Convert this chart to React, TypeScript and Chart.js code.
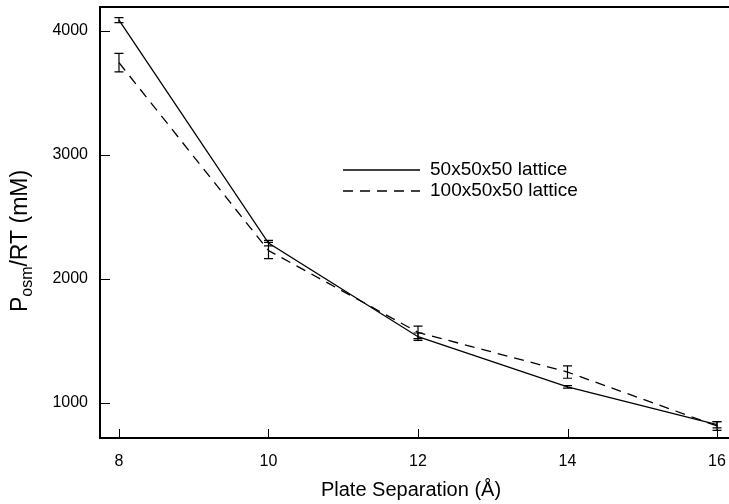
import React, { useEffect, useRef } from "react";
import { Chart, registerables } from "chart.js";

Chart.register(...registerables);

const xValues = [8, 10, 12, 14, 16];
const solidValues = [4088, 2290, 1535, 1130, 825];
const solidErrors = [20, 22, 30, 10, 25];
const dashedValues = [3745, 2230, 1570, 1250, 815];
const dashedErrors = [75, 65, 50, 50, 35];
const xTicks = [8, 10, 12, 14, 16];
const yTicks = [1000, 2000, 3000, 4000];
const seriesLabels = ["50x50x50 lattice", "100x50x50 lattice"];
const xTitle = "Plate Separation (Å)";

const FONT = '"Liberation Sans", Arial, Helvetica, sans-serif';

const framePlugin = {
  id: "framePlugin",
  afterDatasetsDraw(chart: any) {
    const ctx = chart.ctx as CanvasRenderingContext2D;
    const xs = chart.scales.x;
    const ys = chart.scales.y;
    const { left, top, bottom } = chart.chartArea;
    const W = chart.width;
    ctx.save();
    ctx.strokeStyle = "#000";
    ctx.fillStyle = "#000";

    // error bars
    const drawErr = (vals: number[], errs: number[]) => {
      ctx.lineWidth = 1.2;
      ctx.setLineDash([]);
      vals.forEach((v, i) => {
        const px = xs.getPixelForValue(xValues[i]);
        const y1 = ys.getPixelForValue(v + errs[i]);
        const y2 = ys.getPixelForValue(v - errs[i]);
        ctx.beginPath();
        ctx.moveTo(px, y1);
        ctx.lineTo(px, y2);
        ctx.moveTo(px - 4.5, y1);
        ctx.lineTo(px + 4.5, y1);
        ctx.moveTo(px - 4.5, y2);
        ctx.lineTo(px + 4.5, y2);
        ctx.stroke();
      });
    };
    drawErr(solidValues, solidErrors);
    drawErr(dashedValues, dashedErrors);

    // frame: top, left, bottom
    ctx.lineWidth = 2;
    ctx.beginPath();
    ctx.moveTo(left, top);
    ctx.lineTo(W, top);
    ctx.stroke();
    ctx.beginPath();
    ctx.moveTo(left, top - 1);
    ctx.lineTo(left, bottom + 1);
    ctx.stroke();
    ctx.beginPath();
    ctx.moveTo(left, bottom);
    ctx.lineTo(W, bottom);
    ctx.stroke();

    // inward ticks
    ctx.lineWidth = 1;
    xTicks.forEach((t) => {
      const px = Math.round(xs.getPixelForValue(t)) + 0.5;
      ctx.beginPath();
      ctx.moveTo(px, bottom);
      ctx.lineTo(px, bottom - 9);
      ctx.stroke();
    });
    yTicks.forEach((t) => {
      const py = Math.round(ys.getPixelForValue(t)) + 0.5;
      ctx.beginPath();
      ctx.moveTo(left, py);
      ctx.lineTo(left + 10, py);
      ctx.stroke();
    });

    // tick labels
    ctx.font = `16px ${FONT}`;
    ctx.textBaseline = "middle";
    ctx.textAlign = "center";
    xTicks.forEach((t) => {
      ctx.fillText(String(t), xs.getPixelForValue(t), bottom + 24);
    });
    ctx.textAlign = "right";
    yTicks.forEach((t) => {
      ctx.fillText(String(t), left - 12, ys.getPixelForValue(t));
    });

    // x title
    ctx.font = `20px ${FONT}`;
    ctx.textAlign = "center";
    ctx.fillText(xTitle, 411, bottom + 52);

    // y title with subscript
    ctx.save();
    ctx.translate(19, 241);
    ctx.rotate(-Math.PI / 2);
    const big = `23px ${FONT}`;
    const small = `16px ${FONT}`;
    ctx.font = big;
    const wP = ctx.measureText("P").width;
    const wRest = ctx.measureText("/RT (mM)").width;
    ctx.font = small;
    const wSub = ctx.measureText("osm").width;
    const total = wP + wSub + wRest;
    let cx = -total / 2;
    ctx.textAlign = "left";
    ctx.textBaseline = "alphabetic";
    ctx.font = big;
    ctx.fillText("P", cx, 8);
    cx += wP;
    ctx.font = small;
    ctx.fillText("osm", cx, 13);
    cx += wSub;
    ctx.font = big;
    ctx.fillText("/RT (mM)", cx, 8);
    ctx.restore();

    // legend
    ctx.lineWidth = 1.3;
    const lx1 = 343;
    const lx2 = 420;
    const ly = [170, 191];
    ctx.setLineDash([]);
    ctx.beginPath();
    ctx.moveTo(lx1, ly[0]);
    ctx.lineTo(lx2, ly[0]);
    ctx.stroke();
    ctx.setLineDash([10, 7]);
    ctx.beginPath();
    ctx.moveTo(lx1, ly[1]);
    ctx.lineTo(lx2, ly[1]);
    ctx.stroke();
    ctx.setLineDash([]);
    ctx.font = `19px ${FONT}`;
    ctx.textAlign = "left";
    ctx.textBaseline = "middle";
    ctx.fillText(seriesLabels[0], 430, ly[0]);
    ctx.fillText(seriesLabels[1], 430, ly[1]);

    ctx.restore();
  },
};

export default function App() {
  const ref = useRef<HTMLCanvasElement | null>(null);
  useEffect(() => {
    document.body.style.margin = "0";
    const canvas = ref.current;
    if (!canvas) return;
    const chart = new Chart(canvas, {
      type: "line",
      data: {
        datasets: [
          {
            label: seriesLabels[0],
            data: xValues.map((x, i) => ({ x, y: solidValues[i] })),
            borderColor: "#000",
            borderWidth: 1.3,
            pointRadius: 0,
            tension: 0,
            fill: false,
          },
          {
            label: seriesLabels[1],
            data: xValues.map((x, i) => ({ x, y: dashedValues[i] })),
            borderColor: "#000",
            borderWidth: 1.3,
            borderDash: [10, 7],
            pointRadius: 0,
            tension: 0,
            fill: false,
          },
        ],
      },
      options: {
        animation: false,
        responsive: false,
        maintainAspectRatio: false,
        layout: { padding: { left: 100, top: 7, right: 0, bottom: 66 } },
        plugins: { legend: { display: false }, tooltip: { enabled: false } },
        scales: {
          x: { type: "linear", display: false, min: 7.746, max: 16.575 },
          y: { type: "linear", display: false, min: 718, max: 4194 },
        },
      },
      plugins: [framePlugin],
    });
    return () => chart.destroy();
  }, []);
  return (
    <div style={{ width: 729, height: 504, background: "#fff", overflow: "hidden" }}>
      <canvas ref={ref} width={760} height={504} style={{ display: "block" }} />
    </div>
  );
}
